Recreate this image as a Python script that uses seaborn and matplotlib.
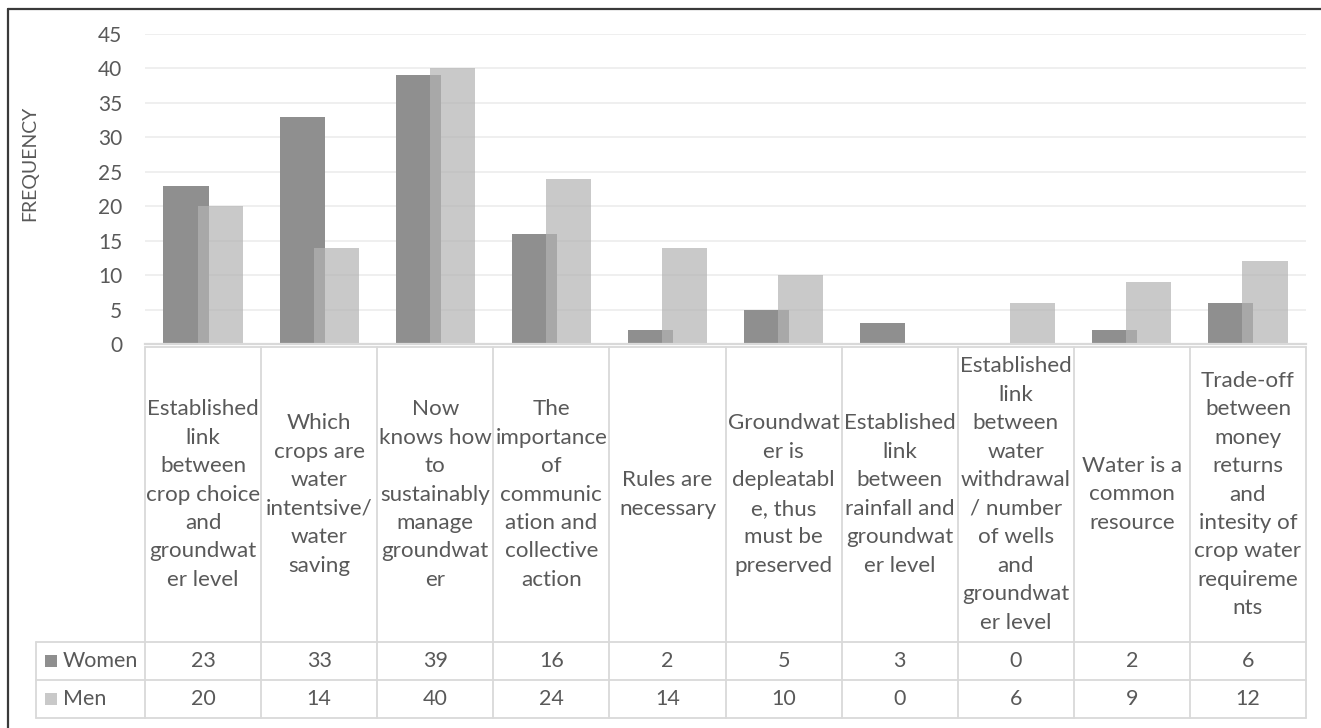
import matplotlib
matplotlib.use("Agg")
import matplotlib.pyplot as plt
from matplotlib.lines import Line2D
from matplotlib.patches import Rectangle
import matplotlib.transforms as mtransforms
import numpy as np
import pandas as pd
import seaborn as sns

# ---- data -------------------------------------------------------------
categories = [
    "Established\nlink\nbetween\ncrop choice\nand\ngroundwat\ner level",
    "Which\ncrops are\nwater\nintentsive/\nwater\nsaving",
    "Now\nknows how\nto\nsustainably\nmanage\ngroundwat\ner",
    "The\nimportance\nof\ncommunic\nation and\ncollective\naction",
    "Rules are\nnecessary",
    "Groundwat\ner is\ndepleatabl\ne, thus\nmust be\npreserved",
    "Established\nlink\nbetween\nrainfall and\ngroundwat\ner level",
    "Established\nlink\nbetween\nwater\nwithdrawal\n/ number\nof wells\nand\ngroundwat\ner level",
    "Water is a\ncommon\nresource",
    "Trade-off\nbetween\nmoney\nreturns\nand\nintesity of\ncrop water\nrequireme\nnts",
]
women = [23, 33, 39, 16, 2, 5, 3, 0, 2, 6]
men = [20, 14, 40, 24, 14, 10, 0, 6, 9, 12]
series_names = ["Women", "Men"]
y_ticks = [0, 5, 10, 15, 20, 25, 30, 35, 40, 45]

# ---- style ------------------------------------------------------------
sns.set_style("white")
plt.rcParams["font.family"] = ["Lato", "DejaVu Sans"]
TXT = "#595959"
GRID = "#d9d9d9"
C_WOMEN = "#8f8f8f"
C_MEN = "#b3b3b3"

W, H = 1321, 728
fig = plt.figure(figsize=(W / 100, H / 100), dpi=100)


def fx(x):
    return x / W


def fy(y):
    return 1 - y / H


# plot area
x_left, x_right = 145, 1306
y_zero, y_top = 344, 34
ax = fig.add_axes([fx(x_left), fy(y_zero), fx(x_right - x_left), (y_zero - y_top) / H])

n = len(categories)
idx = np.arange(n)
offset = 0.147
bar_w = 0.388

df_w = pd.DataFrame({"pos": idx - offset, "value": women})
df_m = pd.DataFrame({"pos": idx + offset, "value": men})

sns.barplot(data=df_w, x="pos", y="value", native_scale=True, width=bar_w,
            color=C_WOMEN, saturation=1, linewidth=0, errorbar=None, ax=ax)
sns.barplot(data=df_m, x="pos", y="value", native_scale=True, width=bar_w,
            color=C_MEN, saturation=1, linewidth=0, errorbar=None, alpha=0.7, ax=ax)

ax.set_xlim(-0.5, n - 0.5)
ax.set_ylim(0, 45)
ax.set_yticks(y_ticks)
ax.set_xticks([])
ax.set_xlabel("")
ax.set_ylabel("")
ax.tick_params(axis="y", length=0, pad=16.5, labelsize=15, labelcolor=TXT)
ax.grid(axis="y", color="#ececec", linewidth=1.2)
ax.set_axisbelow(True)
for s in ["top", "right", "left"]:
    ax.spines[s].set_visible(False)
ax.spines["bottom"].set_color(GRID)
ax.spines["bottom"].set_linewidth(1.6)

fig.text(fx(30), fy(163), "FREQUENCY", rotation=90, ha="center", va="center",
         fontsize=14, color=TXT)

# ---- data table below the axis ---------------------------------------
tr = mtransforms.blended_transform_factory(ax.transData, fig.transFigure)
t_top, t_head, t_row1, t_bot = 347, 642, 680, 718
t_left = 36
lc = GRID
lw = 1.3

def hline(y, x0, x1):
    fig.add_artist(Line2D([fx(x0), fx(x1)], [fy(y), fy(y)], color=lc, lw=lw))

def vline(x, y0, y1):
    fig.add_artist(Line2D([fx(x), fx(x)], [fy(y0), fy(y1)], color=lc, lw=lw))

hline(t_top, x_left, x_right)
hline(t_head, t_left, x_right)
hline(t_row1, t_left, x_right)
hline(t_bot, t_left, x_right)
vline(t_left, t_head, t_bot)
col_w = (x_right - x_left) / n
for i in range(n + 1):
    vline(x_left + i * col_w, t_top, t_bot)

for i, lab in enumerate(categories):
    fig.text(i, fy((t_top + t_head) / 2), lab, transform=tr, ha="center",
             va="center", multialignment="center", fontsize=16.1, color=TXT,
             linespacing=1.53)

for row, (vals, y0, y1) in enumerate([(women, t_head, t_row1), (men, t_row1, t_bot)]):
    yc = fy((y0 + y1) / 2)
    for i, v in enumerate(vals):
        fig.text(i, yc, str(v), transform=tr, ha="center", va="center",
                 fontsize=15.5, color=TXT)

# legend keys in the table's first column
for name, col, y0, y1 in [(series_names[0], C_WOMEN, t_head, t_row1),
                          (series_names[1], "#c9c9c9", t_row1, t_bot)]:
    yc = (y0 + y1) / 2
    fig.add_artist(Rectangle((fx(45), fy(yc + 6)), fx(12), 12 / H,
                             facecolor=col, edgecolor="none"))
    fig.text(fx(63), fy(yc), name, ha="left", va="center", fontsize=15.5, color=TXT)

# outer frame (left and top edges)
fig.add_artist(Line2D([fx(8), fx(8)], [fy(9), 0], color="#3a3a3a", lw=1.6))
fig.add_artist(Line2D([fx(8), 1], [fy(9), fy(9)], color="#3a3a3a", lw=1.6))

fig.savefig("out.png", dpi=100, facecolor="white")
